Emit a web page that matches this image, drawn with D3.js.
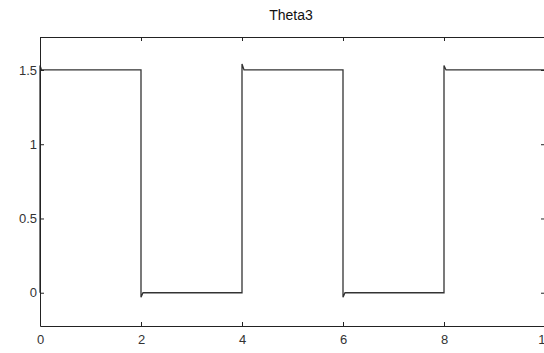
<!DOCTYPE html>
<html>
<head>
<meta charset="utf-8">
<script src="https://cdn.jsdelivr.net/npm/d3@7"></script>
<style>
  body { margin: 0; background: #fff; }
  svg { display: block; overflow: hidden; }
  .axis text { font-family: "Liberation Sans", Arial, sans-serif; font-size: 13px; fill: #333; }
  .axis path, .axis line { stroke: #222; }
  .title { font-family: "Liberation Sans", Arial, sans-serif; font-size: 14px; fill: #111; }
</style>
</head>
<body>
<svg id="chart" width="544" height="353"></svg>
<script>
// Theta3 square wave (time in s, angle)
const TIME = [0, 0, 0.03, 2, 2, 2.04, 4, 4, 4.04, 6, 6, 6.04, 8, 8, 8.04, 10];
const THETA = [0, 1.53, 1.5, 1.5, -0.03, 0, 0, 1.54, 1.5, 1.5, -0.03, 0, 0, 1.53, 1.5, 1.5];
const X_TICKS = [0, 2, 4, 6, 8, 10];
const Y_TICKS = [0, 0.5, 1, 1.5];

const svg = d3.select("#chart");
const m = { top: 37, left: 40, bottom: 27 };
const x = d3.scaleLinear().domain([0, 10]).range([m.left, 545]);
const y = d3.scaleLinear().domain([-0.224, 1.722]).range([326, m.top]);

const line = d3.line().x((d) => x(d[0])).y((d) => y(d[1]));
const pts = TIME.map((t, i) => [t, THETA[i]]);

svg.append("path")
  .datum(pts)
  .attr("fill", "none")
  .attr("stroke", "#333")
  .attr("stroke-width", 1.3)
  .attr("d", line);

// bottom axis
svg.append("g")
  .attr("class", "axis")
  .attr("transform", `translate(0,${y(-0.224)})`)
  .call(d3.axisBottom(x).tickValues(X_TICKS).tickSize(-4).tickPadding(9).tickSizeOuter(0).tickFormat(d3.format("d")));

// top axis (ticks only)
svg.append("g")
  .attr("class", "axis")
  .attr("transform", `translate(0,${y(1.722)})`)
  .call(d3.axisTop(x).tickValues(X_TICKS).tickSize(-4).tickSizeOuter(0).tickFormat(""));

// left axis
svg.append("g")
  .attr("class", "axis")
  .attr("transform", `translate(${x(0)},0)`)
  .call(d3.axisLeft(y).tickValues(Y_TICKS).tickSize(-4).tickPadding(3).tickSizeOuter(0).tickFormat(d3.format("")));

// right axis (ticks only)
svg.append("g")
  .attr("class", "axis")
  .attr("transform", `translate(${x(10)},0)`)
  .call(d3.axisRight(y).tickValues(Y_TICKS).tickSize(-4).tickSizeOuter(0).tickFormat(""));

svg.append("text")
  .attr("class", "title")
  .attr("x", 291)
  .attr("y", 20)
  .attr("text-anchor", "middle")
  .text("Theta3");
</script>
</body>
</html>
